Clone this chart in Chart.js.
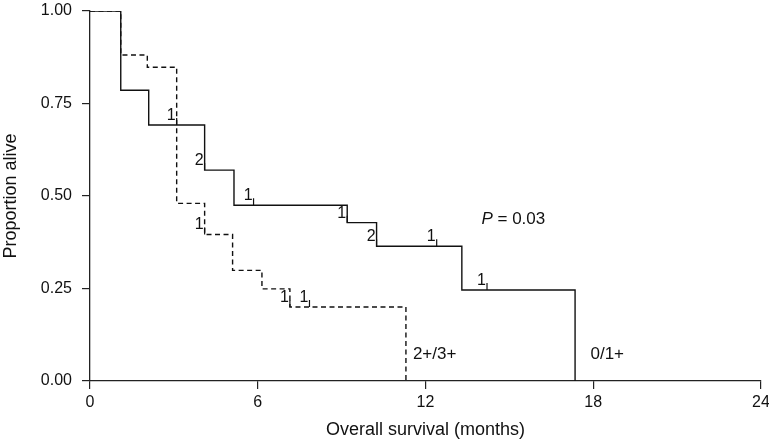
<!DOCTYPE html>
<html>
<head>
<meta charset="utf-8">
<script src="https://cdn.jsdelivr.net/npm/chart.js@4.4.1/dist/chart.umd.min.js"></script>
<style>
  body { margin: 0; background: #fff; }
  #wrap { width: 769px; height: 439px; }
</style>
</head>
<body>
<div id="wrap"><canvas id="km-chart" width="769" height="439"></canvas></div>
<script>
// Kaplan-Meier steps (time in months, proportion alive after the drop)
const lowTimes = [0, 1.1, 2.1, 4.1, 5.15, 9.2, 10.25, 13.3, 17.35];
const lowSurv = [1, 0.786, 0.692, 0.57, 0.475, 0.428, 0.364, 0.246, 0];
const highTimes = [0, 1.1, 2.05, 3.1, 4.1, 5.1, 6.15, 7.15, 11.3];
const highSurv = [1, 0.881, 0.848, 0.48, 0.396, 0.299, 0.249, 0.2, 0];

// censored patients
const lowCensorTimes = [3.1, 4.1, 5.85, 9.2, 10.25, 12.4, 14.2];
const lowCensorCounts = ['1', '2', '1', '1', '2', '1', '1'];
const highCensorTimes = [4.1, 7.15, 7.85];
const highCensorCounts = ['1', '1', '1'];

const xTicks = [0, 6, 12, 18, 24];
const yTicks = [0, 0.25, 0.5, 0.75, 1];

const groupLabels = ['0/1+', '2+/3+'];
const pValue = '0.03';

Chart.defaults.font.family = '"Liberation Sans", Arial, Helvetica, sans-serif';
Chart.defaults.color = '#111';

function toPoints(times, surv) {
    return times.map((t, i) => ({ x: t, y: surv[i] }));
}

function survAt(times, surv, t) {
    let v = surv[0];
    for (let i = 0; i < times.length; i++) {
        if (times[i] <= t + 1e-9) v = surv[i];
    }
    return v;
}

const kmMarks = {
    id: 'kmMarks',
    afterDatasetsDraw(chart) {
        const ctx = chart.ctx;
        const x = chart.scales.x;
        const y = chart.scales.y;
        ctx.save();
        ctx.strokeStyle = '#111';
        ctx.fillStyle = '#111';
        ctx.lineWidth = 1.2;
        ctx.font = '16px "Liberation Sans", Arial, sans-serif';
        ctx.textAlign = 'right';
        ctx.textBaseline = 'alphabetic';

        function censor(times, surv, cTimes, counts) {
            cTimes.forEach((t, i) => {
                const px = x.getPixelForValue(t);
                const py = y.getPixelForValue(survAt(times, surv, t));
                ctx.beginPath();
                ctx.moveTo(px, py);
                ctx.lineTo(px, py - 7);
                ctx.stroke();
                ctx.fillText(counts[i], px - 1, py - 5);
            });
        }
        censor(lowTimes, lowSurv, lowCensorTimes, lowCensorCounts);
        censor(highTimes, highSurv, highCensorTimes, highCensorCounts);

        // group labels
        ctx.textAlign = 'left';
        ctx.font = '17px "Liberation Sans", Arial, sans-serif';
        ctx.fillText(groupLabels[1], x.getPixelForValue(11.55), y.getPixelForValue(0.059));
        ctx.fillText(groupLabels[0], x.getPixelForValue(17.9), y.getPixelForValue(0.059));

        // P value
        let px = x.getPixelForValue(14.0);
        const py = y.getPixelForValue(0.424);
        ctx.font = 'italic 17px "Liberation Sans", Arial, sans-serif';
        ctx.fillText('P', px, py);
        px += ctx.measureText('P').width;
        ctx.font = '17px "Liberation Sans", Arial, sans-serif';
        ctx.fillText(' = ' + pValue, px, py);
        ctx.restore();
    }
};

const axisStyle = {
    border: { display: true, color: '#222', width: 1.3 },
    grid: { display: true, drawOnChartArea: false, drawTicks: true, tickLength: 8, color: '#222', lineWidth: 1.2 }
};

const ctx = document.getElementById('km-chart').getContext('2d');
const chart = new Chart(ctx, {
    type: 'line',
    data: {
        datasets: [{
            label: groupLabels[1],
            data: toPoints(highTimes, highSurv),
            borderColor: '#111',
            borderWidth: 1.4,
            borderDash: [5, 3.5],
            stepped: 'before',
            pointRadius: 0,
            fill: false
        },
        {
            label: groupLabels[0],
            data: toPoints(lowTimes, lowSurv),
            borderColor: '#111',
            borderWidth: 1.4,
            stepped: 'before',
            pointRadius: 0,
            fill: false
        }]
    },
    options: {
        responsive: false,
        animation: false,
        layout: { padding: { top: 11, right: 8, left: 0, bottom: 0 } },
        plugins: {
            legend: { display: false },
            tooltip: { enabled: false }
        },
        scales: {
            x: {
                type: 'linear',
                min: 0,
                max: 24,
                border: axisStyle.border,
                grid: axisStyle.grid,
                afterBuildTicks: (s) => { s.ticks = xTicks.map(v => ({ value: v })); },
                ticks: { font: { size: 16 }, padding: 4, maxRotation: 0, color: '#111' },
                title: { display: true, text: 'Overall survival (months)', font: { size: 18 }, padding: { top: 0, bottom: -2 }, color: '#111' },
                afterFit: (s) => { s.height = 58; s.paddingLeft = 0; s.paddingRight = 0; }
            },
            y: {
                type: 'linear',
                min: 0,
                max: 1,
                border: axisStyle.border,
                grid: axisStyle.grid,
                afterBuildTicks: (s) => { s.ticks = yTicks.map(v => ({ value: v })); },
                ticks: { font: { size: 16 }, padding: 10, color: '#111', callback: (v) => v.toFixed(2) },
                title: { display: true, text: 'Proportion alive', font: { size: 18 }, padding: 0, color: '#111' },
                afterFit: (s) => { s.width = 90; s.paddingTop = 0; s.paddingBottom = 0; }
            }
        }
    },
    plugins: [kmMarks]
});
</script>
</body>
</html>
